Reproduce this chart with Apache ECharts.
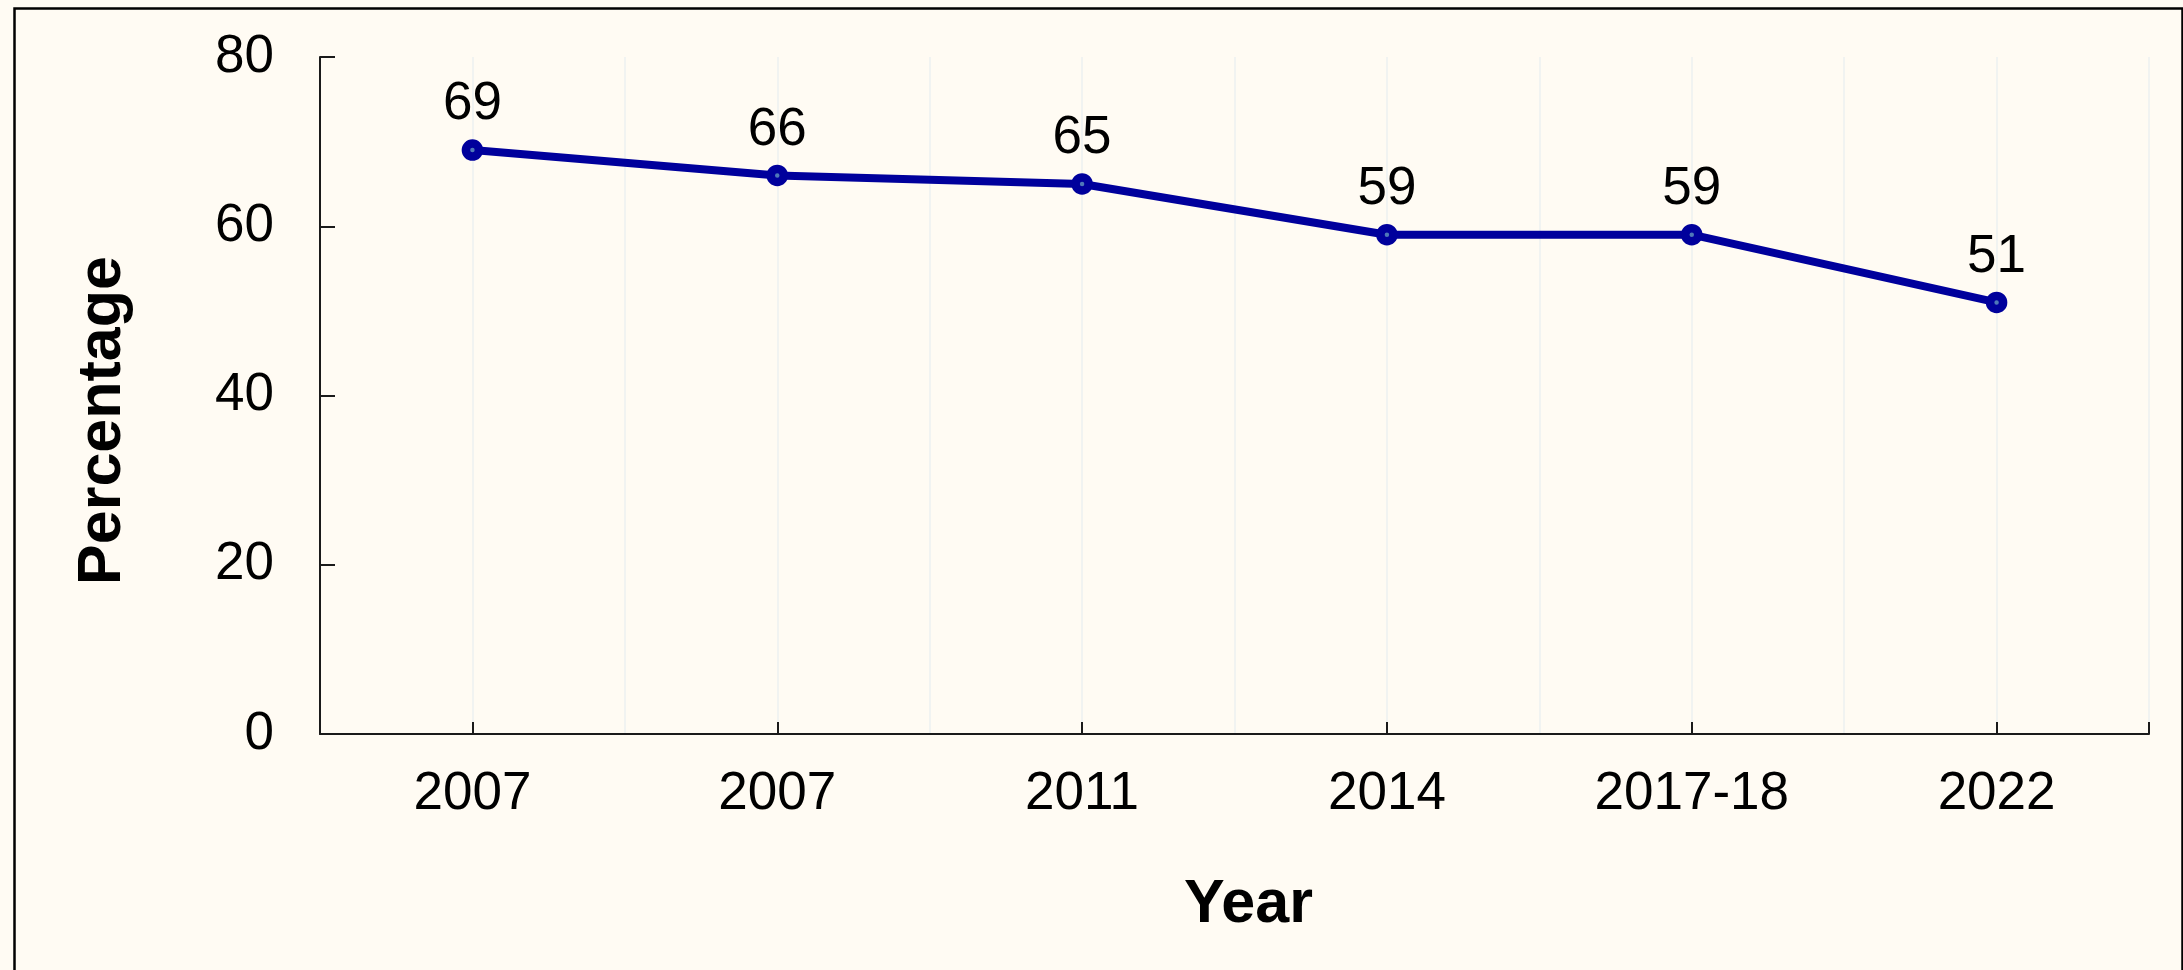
<!DOCTYPE html>
<html>
<head>
<meta charset="utf-8">
<script src="https://cdn.jsdelivr.net/npm/echarts@6/dist/echarts.min.js"></script>
<style>
  html, body { margin: 0; padding: 0; background: #fffbf3; }
  #chart { width: 2183px; height: 970px; }
</style>
</head>
<body>
<div id="chart"></div>
<script>
// Survey rounds and the share recorded in each
const years = ['2007', '2007', '2011', '2014', '2017-18', '2022'];
const percentages = [69, 66, 65, 59, 59, 51];

// Value axis range
const yMin = 0;
const yMax = 80;
const yStep = 20;

const xTitle = 'Year';
const yTitle = 'Percentage';

const FONT = '"Liberation Sans", Arial, Helvetica, sans-serif';
const INK = '#000000';
const AXIS = '#1a1a1a';
const LINE = '#00009c';
const GRID = '#edf0f1';

const chart = echarts.init(document.getElementById('chart'), null, { renderer: 'canvas' });

chart.setOption({
  backgroundColor: '#fffbf3',
  animation: false,
  textStyle: { fontFamily: FONT },
  graphic: [{
    type: 'rect',
    left: 12, top: 6,
    shape: { width: 2168, height: 1000 },
    style: { fill: 'none', stroke: '#000', lineWidth: 2.5 },
    silent: true
  }],
  grid: { left: 320, right: 34, top: 57, bottom: 236, containLabel: false },
  xAxis: [
    {
      type: 'category',
      data: years,
      position: 'bottom',
      boundaryGap: true,
      name: xTitle,
      nameLocation: 'middle',
      nameGap: 141,
      nameTextStyle: {
        fontFamily: FONT, fontWeight: 'bold', fontSize: 61, color: INK,
        padding: [0, 0, 0, 28]
      },
      axisLine: { show: true, lineStyle: { color: AXIS, width: 2 } },
      axisTick: { show: true, inside: true, length: 12, alignWithLabel: true, lineStyle: { color: AXIS, width: 2 } },
      axisLabel: { fontFamily: FONT, fontSize: 53, color: INK, margin: 34 },
      splitLine: { show: false }
    },
    {
      // half-band grid lines across the plot
      type: 'value',
      position: 'top',
      min: 0,
      max: years.length * 2,
      interval: 1,
      axisLine: { show: false },
      axisTick: { show: false },
      axisLabel: { show: false },
      splitLine: { show: true, lineStyle: { color: GRID, width: 1.5 } }
    },
    {
      // closing tick at the right end of the category axis
      type: 'value',
      position: 'bottom',
      min: 0,
      max: 1,
      interval: 1,
      axisLine: { show: false },
      axisTick: { show: true, inside: true, length: 12, lineStyle: { color: AXIS, width: 2 } },
      axisLabel: { show: false },
      splitLine: { show: false }
    }
  ],
  yAxis: {
    type: 'value',
    min: yMin,
    max: yMax,
    interval: yStep,
    name: yTitle,
    nameLocation: 'middle',
    nameGap: 186,
    nameRotate: 90,
    nameTextStyle: {
      fontFamily: FONT, fontWeight: 'bold', fontSize: 61, color: INK,
      padding: [0, 50, 0, 0]
    },
    axisLine: { show: true, lineStyle: { color: AXIS, width: 2 } },
    axisTick: { show: true, inside: true, length: 15, lineStyle: { color: AXIS, width: 2 } },
    axisLabel: { fontFamily: FONT, fontSize: 53, color: INK, margin: 46 },
    splitLine: { show: false }
  },
  series: [{
    type: 'line',
    xAxisIndex: 0,
    yAxisIndex: 0,
    data: percentages,
    symbol: 'circle',
    symbolSize: 13,
    lineStyle: { color: LINE, width: 8 },
    itemStyle: { color: '#4f78b8', borderColor: LINE, borderWidth: 8.5 },
    label: {
      show: true,
      position: 'top',
      distance: 8,
      fontFamily: FONT,
      fontSize: 53,
      color: INK
    },
    z: 5
  }]
});
</script>
</body>
</html>
